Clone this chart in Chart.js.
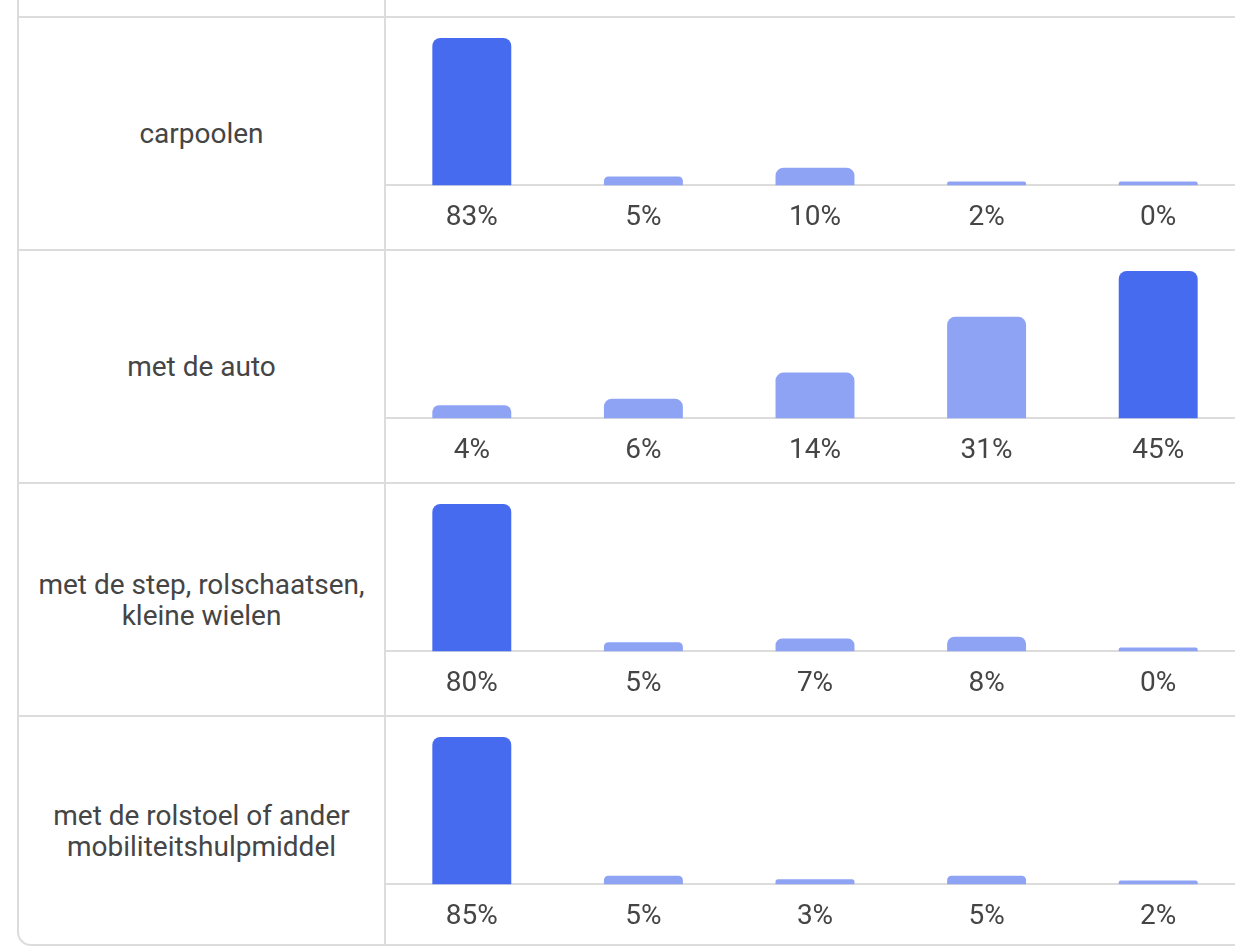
<!DOCTYPE html>
<html lang="nl">
<head>
    <meta charset="UTF-8">
    <meta name="viewport" content="width=device-width, initial-scale=1.0">
    <title>Vervoerswijze</title>
    <script src="https://cdn.jsdelivr.net/npm/chart.js@4.4.0/dist/chart.umd.min.js"></script>
    <style>
        body {
            margin: 0;
            padding: 0;
            background-color: #fff;
            font-family: Roboto, Arial, sans-serif;
            overflow: hidden;
        }
        .grid {
            position: absolute;
            left: 17px;
            top: -20px;
            width: 1240px;
            border-left: 2px solid #dcdcdc;
            border-bottom: 2px solid #dcdcdc;
            border-bottom-left-radius: 14px;
        }
        .row {
            display: flex;
            border-top: 2px solid #dcdcdc;
            height: 231px;
        }
        .row.spacer {
            border-top: none;
            height: 36px;
        }
        .row.last {
            height: 227px;
        }
        .label {
            width: 367px;
            flex: none;
            box-sizing: border-box;
            border-right: 2px solid #dcdcdc;
            display: flex;
            align-items: center;
            justify-content: center;
            text-align: center;
            padding: 0 10px;
            font-size: 28px;
            line-height: 31px;
            color: #454545;
        }
        .chart {
            position: relative;
            flex: none;
            width: 858px;
            height: 231px;
        }
    </style>
</head>
<body>
    <div class="grid" id="grid">
        <div class="row spacer"><div class="label"></div><div class="chart"></div></div>
    </div>

    <script>
        // one row per answer, five answer options each (values in %)
        const rowLabels = [
            'carpoolen',
            'met de auto',
            'met de step, rolschaatsen, kleine wielen',
            'met de rolstoel of ander mobiliteitshulpmiddel'
        ];
        const carpoolen = [83, 5, 10, 2, 0];
        const metDeAuto = [4, 6, 14, 31, 45];
        const metDeStep = [80, 5, 7, 8, 0];
        const metDeRolstoel = [85, 5, 3, 5, 2];
        const rowValues = [carpoolen, metDeAuto, metDeStep, metDeRolstoel];

        const darkBlue = '#466bef';
        const lightBlue = '#8fa3f5';
        const textColor = '#454545';

        const grid = document.getElementById('grid');

        rowValues.forEach((values, i) => {
            const row = document.createElement('div');
            row.className = 'row' + (i === rowValues.length - 1 ? ' last' : '');

            const label = document.createElement('div');
            label.className = 'label';
            label.textContent = rowLabels[i];

            const cell = document.createElement('div');
            cell.className = 'chart';
            const canvas = document.createElement('canvas');
            cell.appendChild(canvas);

            row.appendChild(label);
            row.appendChild(cell);
            grid.appendChild(row);

            const top = Math.max(...values);
            const tickLabels = values.map(v => v + '%');

            new Chart(canvas, {
                type: 'bar',
                data: {
                    labels: tickLabels,
                    datasets: [{
                        data: values,
                        backgroundColor: values.map(v => v === top ? darkBlue : lightBlue),
                        borderRadius: 8,
                        minBarLength: 4,
                        categoryPercentage: 0.46,
                        barPercentage: 1
                    }]
                },
                options: {
                    responsive: true,
                    maintainAspectRatio: false,
                    animation: false,
                    layout: { padding: { top: 20, left: 0, right: 0, bottom: 6 } },
                    plugins: {
                        legend: { display: false },
                        tooltip: { enabled: false }
                    },
                    scales: {
                        x: {
                            grid: { display: false },
                            border: { display: true, color: '#dcdcdc', width: 2 },
                            ticks: {
                                color: textColor,
                                padding: 8,
                                font: { family: 'Roboto', size: 28 }
                            }
                        },
                        y: {
                            display: false,
                            min: 0,
                            max: top
                        }
                    }
                }
            });
        });
    </script>
</body>
</html>
